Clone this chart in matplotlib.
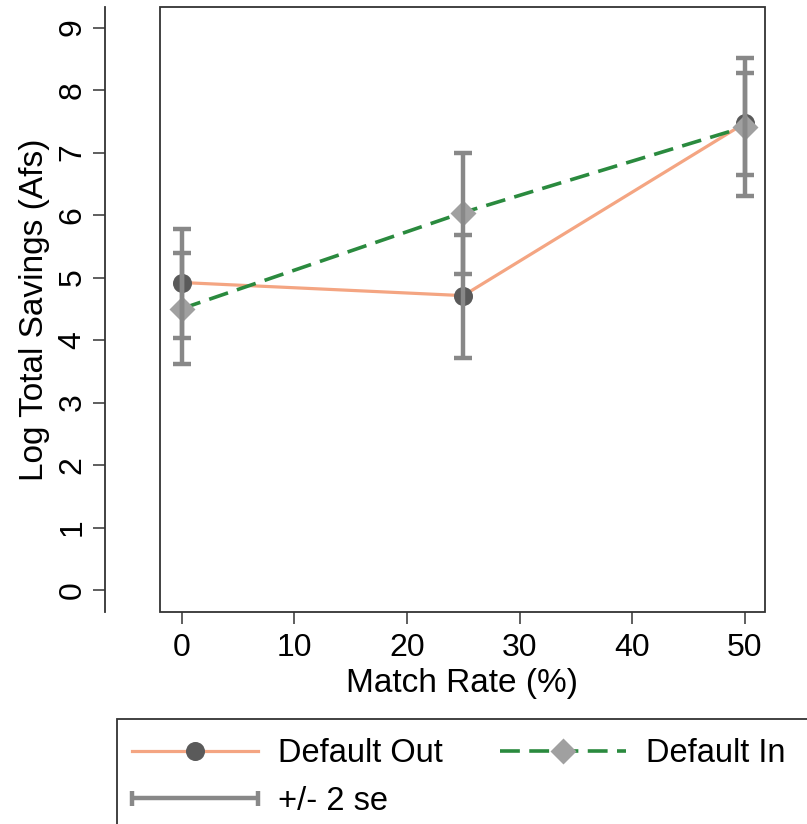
import matplotlib
matplotlib.use("Agg")
import matplotlib.pyplot as plt
from matplotlib.lines import Line2D
from matplotlib.patches import Rectangle
from matplotlib.legend_handler import HandlerBase

plt.rcParams['font.family'] = ['Liberation Sans', 'DejaVu Sans']

# ---- data ----
match_rate = [0, 25, 50]
out_mean = [4.92, 4.71, 7.47]
out_lo = [4.04, 3.72, 6.64]
out_hi = [5.78, 5.68, 8.27]
in_mean = [4.50, 6.04, 7.41]
in_lo = [3.61, 5.06, 6.30]
in_hi = [5.39, 6.99, 8.52]
x_ticks = [0, 10, 20, 30, 40, 50]
y_ticks = [0, 1, 2, 3, 4, 5, 6, 7, 8, 9]

C_OUT_LINE = '#f4a582'
C_IN_LINE = '#2a8a3e'
C_ERR = '#888888'
C_CIRCLE = '#5a5a5a'
C_DIAMOND = '#a0a0a0'
C_AX = '#333333'

W, H = 807, 824
fig = plt.figure(figsize=(W / 100, H / 100), dpi=100)
ax = fig.add_axes([160 / W, 1 - 612 / H, 605 / W, 605 / H])

ax.plot(match_rate, out_mean, color=C_OUT_LINE, lw=2.3, zorder=2)
ax.plot(match_rate, in_mean, color=C_IN_LINE, lw=2.6, ls=(0, (5.5, 2.6)), zorder=2)
ax.plot(match_rate, out_mean, 'o', color=C_CIRCLE, ms=13.7, mec='none', zorder=3)
ax.plot(match_rate, in_mean, 'D', color=C_DIAMOND, ms=13.7, mec='none', zorder=3.1)

for m, lo, hi in [(out_mean, out_lo, out_hi), (in_mean, in_lo, in_hi)]:
    yerr = [[a - b for a, b in zip(m, lo)], [b - a for a, b in zip(m, hi)]]
    ax.errorbar(match_rate, m, yerr=yerr, fmt='none', ecolor=C_ERR,
                elinewidth=3.2, capsize=6.8, capthick=3.2, zorder=4)

ax.set_xlim(-1.91, 51.78)
ax.set_ylim(-0.352, 9.328)
ax.set_xticks(x_ticks)
ax.set_yticks(y_ticks)

for s in ['top', 'right', 'bottom']:
    ax.spines[s].set_visible(False)
ax.spines['left'].set_position(('outward', 55 * 0.72))
ax.spines['left'].set_color(C_AX)
ax.spines['left'].set_linewidth(1.3)
ax.add_patch(Rectangle((0, 0), 1, 1, transform=ax.transAxes, fill=False,
                       ec=C_AX, lw=1.3, clip_on=False, zorder=5))

ax.tick_params(axis='both', length=12 * 0.72, width=1.1, color=C_AX,
               labelsize=23, labelcolor='black')
ax.tick_params(axis='x', pad=6.5)
ax.tick_params(axis='y', pad=4)
for lbl in ax.get_yticklabels():
    lbl.set_rotation(90)
    lbl.set_va('center')

ax.set_xlabel('Match Rate (%)', fontsize=24)
ax.set_ylabel('Log Total Savings (Afs)', fontsize=24)
ax.xaxis.set_label_coords(0.5, (612 - 668) / 605)
ax.yaxis.set_label_coords((50 - 160) / 605, 0.5)


class CapHandler(HandlerBase):
    def create_artists(self, legend, orig_handle, xdescent, ydescent,
                       width, height, fontsize, trans):
        y = height / 2 - ydescent
        x0, x1 = -xdescent, width - xdescent
        h = 7.5 * 0.72
        kw = dict(color=C_ERR, lw=3.2, transform=trans, solid_capstyle='butt')
        return [Line2D([x0, x1], [y, y], **kw),
                Line2D([x0, x0], [y - h, y + h], **kw),
                Line2D([x1, x1], [y - h, y + h], **kw)]


h_out = Line2D([], [], color=C_OUT_LINE, lw=2.3, marker='o', ms=13.7,
               mfc=C_CIRCLE, mec='none')
h_in = Line2D([], [], color=C_IN_LINE, lw=2.6, ls=(0, (5.5, 2.6)), marker='D',
              ms=13.7, mfc=C_DIAMOND, mec='none')
h_se = object()

leg = fig.legend([h_out, h_se, h_in], ['Default Out', '+/- 2 se', 'Default In'],
                 handler_map={h_se: CapHandler()},
                 ncol=2, frameon=False, loc='upper left',
                 bbox_to_anchor=(132 / W, 1 - 738 / H), borderpad=0, borderaxespad=0,
                 fontsize=23.5, handlelength=3.87, handletextpad=0.61,
                 columnspacing=1.75, labelspacing=0.51, numpoints=1)

fig.patches.append(Rectangle((117 / W, -0.1), 1.0, 0.1 + 1 - 719 / H,
                             transform=fig.transFigure, fill=False, ec=C_AX, lw=1.3))

fig.savefig('out.png', dpi=100)
